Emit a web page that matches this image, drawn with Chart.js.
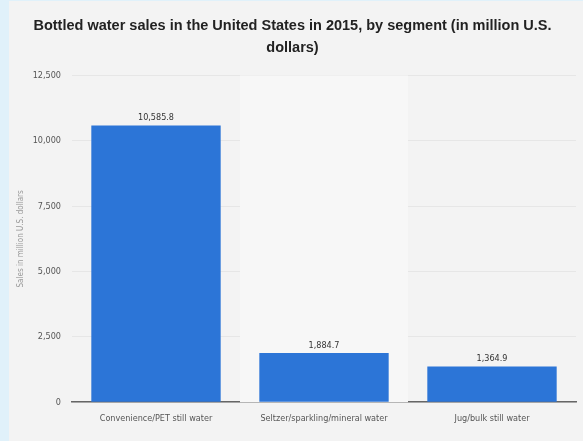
<!DOCTYPE html>
<html>
<head>
<meta charset="utf-8">
<script src="https://cdn.jsdelivr.net/npm/chart.js@4"></script>
<style>
	html, body { margin: 0; padding: 0; background: #e0f1fa; }
	#wrap { position: absolute; left: 9px; top: 1px; width: 574px; height: 440px; background: #f3f3f3; }
</style>
</head>
<body>
<div id="wrap"><canvas id="salesChart"></canvas></div>
<script>
	// 데이터
	const categories = ["Convenience/PET still water", "Seltzer/sparkling/mineral water", "Jug/bulk still water"];
	const salesValues = [10585.8, 1884.7, 1364.9];
	const yTicks = [0, 2500, 5000, 7500, 10000, 12500];
	const titleLines = ["Bottled water sales in the United States in 2015, by segment (in million U.S.", "dollars)"];
	const yAxisTitle = "Sales in million U.S. dollars";
	const highlightIndex = 1;

	const narrow = "'Liberation Sans Narrow', 'DejaVu Sans Condensed', 'Liberation Sans', sans-serif";

	function fmt(v, digits) {
		return v.toLocaleString("en-US", {minimumFractionDigits: digits, maximumFractionDigits: digits});
	}

	// 가운데 카테고리 배경 강조
	const bandPlugin = {
		id: 'categoryBand',
		beforeDatasetsDraw(chart) {
			const {ctx, chartArea, scales: {x}} = chart;
			const w = x.width / categories.length;
			const left = x.left + w * highlightIndex;
			ctx.save();
			ctx.fillStyle = '#f7f7f7';
			ctx.fillRect(left, chartArea.top, w, chartArea.bottom - chartArea.top);
			ctx.restore();
		}
	};

	// 막대 위 값 표시
	const valueLabels = {
		id: 'valueLabels',
		afterDatasetsDraw(chart) {
			const {ctx, data} = chart;
			chart.getDatasetMeta(0).data.forEach((bar, i) => {
				ctx.save();
				ctx.font = "9px " + narrow;
				ctx.fillStyle = '#333';
				ctx.textAlign = 'center';
				ctx.textBaseline = 'bottom';
				ctx.fillText(fmt(data.datasets[0].data[i], 1), bar.x, bar.y - 3);
				ctx.restore();
			});
		}
	};

	const ctx = document.getElementById('salesChart').getContext('2d');
	new Chart(ctx, {
		type: 'bar',
		data: {
			labels: categories,
			datasets: [{
				data: salesValues,
				backgroundColor: '#2c75d7',
				categoryPercentage: 0.77,
				barPercentage: 1
			}]
		},
		options: {
			responsive: true,
			maintainAspectRatio: false,
			animation: false,
			layout: { padding: { left: 0, right: 7, top: 0, bottom: 6 } },
			plugins: {
				legend: { display: false },
				tooltip: { enabled: false },
				title: {
					display: true,
					text: titleLines,
					color: '#222',
					font: { family: "'Liberation Sans', sans-serif", size: 14.5, weight: 'bold', lineHeight: 1.5 },
					padding: { top: 14, bottom: 17 }
				}
			},
			scales: {
				x: {
					grid: { display: false, drawTicks: false },
					border: { display: true, color: '#666', width: 1.5 },
					ticks: { color: '#555', font: { family: narrow, size: 9 }, padding: 11, maxRotation: 0 }
				},
				y: {
					min: 0,
					max: 12500,
					afterBuildTicks(scale) {
						scale.ticks = yTicks.map(v => ({value: v}));
					},
					afterFit(scale) { scale.width = 63; },
					grid: { color: '#e6e6e6', drawTicks: false },
					border: { display: false },
					ticks: {
						color: '#555',
						font: { family: narrow, size: 9 },
						padding: 11,
						callback: v => fmt(v, 0)
					},
					title: {
						display: true,
						text: yAxisTitle,
						color: '#999',
						font: { family: narrow, size: 8 },
						padding: { top: 7, bottom: 0 }
					}
				}
			}
		},
		plugins: [bandPlugin, valueLabels]
	});
</script>
</body>
</html>
